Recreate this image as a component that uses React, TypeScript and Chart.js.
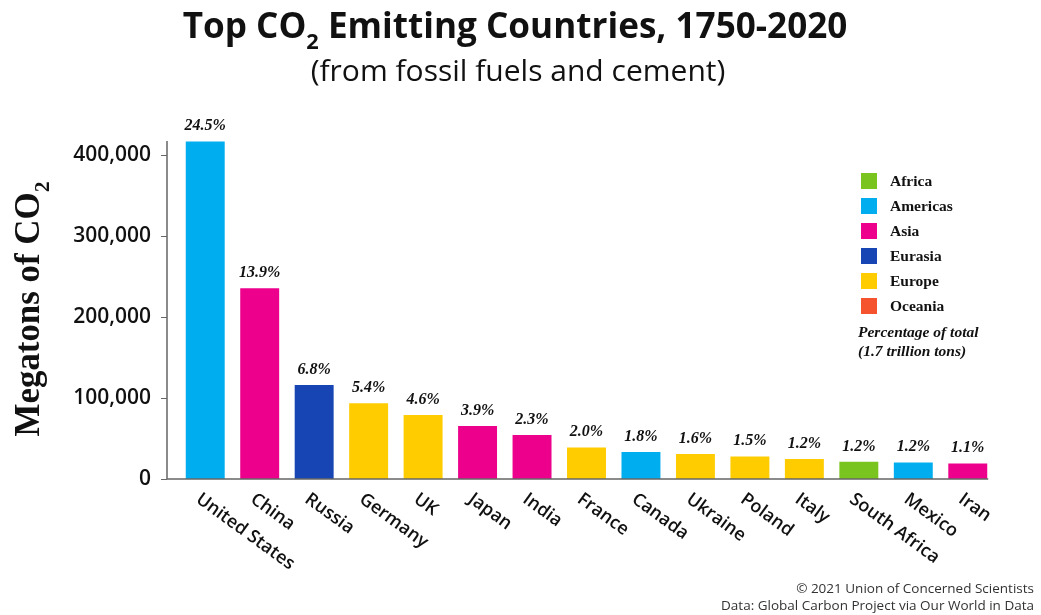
import React, { useEffect, useRef } from "react";
import { Chart, registerables } from "chart.js";

Chart.register(...registerables);

const countries = ["United States", "China", "Russia", "Germany", "UK", "Japan", "India", "France", "Canada", "Ukraine", "Poland", "Italy", "South Africa", "Mexico", "Iran"];
const emissions = [417000, 235500, 116000, 93500, 79000, 65500, 54300, 39000, 33500, 30800, 27800, 24700, 21300, 20400, 19200];
const shares = ["24.5%", "13.9%", "6.8%", "5.4%", "4.6%", "3.9%", "2.3%", "2.0%", "1.8%", "1.6%", "1.5%", "1.2%", "1.2%", "1.2%", "1.1%"];
const regionOf = ["Americas", "Asia", "Eurasia", "Europe", "Europe", "Asia", "Asia", "Europe", "Americas", "Europe", "Europe", "Europe", "Africa", "Americas", "Asia"];
const regions = ["Africa", "Americas", "Asia", "Eurasia", "Europe", "Oceania"];
const regionColors = ["#7ac41f", "#00aeef", "#ec008c", "#1746b4", "#ffcc00", "#f4532d"];
const yTicks = [0, 100000, 200000, 300000, 400000];

const titleParts = [{ t: "Top CO", sub: false }, { t: "2", sub: true }, { t: " Emitting Countries, 1750-2020", sub: false }];
const subtitle = "(from fossil fuels and cement)";
const yTitleParts = [{ t: "Megatons of CO", sub: false }, { t: "2", sub: true }];
const noteLines = ["Percentage of total", "(1.7 trillion tons)"];
const footer = ["© 2021 Union of Concerned Scientists", "Data: Global Carbon Project via Our World in Data"];

function partsWidth(ctx: CanvasRenderingContext2D, parts: any[], font: (s: number) => string, size: number) {
  let w = 0;
  for (const p of parts) {
    ctx.font = font(p.sub ? size * 0.62 : size);
    w += ctx.measureText(p.t).width;
  }
  return w;
}

function drawParts(ctx: CanvasRenderingContext2D, parts: any[], font: (s: number) => string, size: number, cx: number, baseY: number) {
  const w = partsWidth(ctx, parts, font, size);
  let x = cx - w / 2;
  ctx.textAlign = "left";
  ctx.textBaseline = "alphabetic";
  for (const p of parts) {
    const s = p.sub ? size * 0.62 : size;
    ctx.font = font(s);
    ctx.fillText(p.t, x, baseY + (p.sub ? size * 0.3 : 0));
    x += ctx.measureText(p.t).width;
  }
}

const decorPlugin = {
  id: "decor",
  afterDraw(chart: any) {
    const ctx: CanvasRenderingContext2D = chart.ctx;
    const meta = chart.getDatasetMeta(0);
    const yScale = chart.scales.y;
    ctx.save();
    ctx.fillStyle = "#111";

    // Title
    const tFont = (s: number) => `700 ${s}px "Open Sans"`;
    let ts = 30;
    ts = ts * 665 / partsWidth(ctx, titleParts, tFont, ts);
    drawParts(ctx, titleParts, tFont, ts, 515, 38);
    // Subtitle
    const sFont = (s: number) => `400 ${s}px "Open Sans"`;
    let ss = 24;
    ss = ss * 415 / partsWidth(ctx, [{ t: subtitle, sub: false }], sFont, ss);
    drawParts(ctx, [{ t: subtitle, sub: false }], sFont, ss, 518, 81);

    // Y title
    const yFont = (s: number) => `700 ${s}px "Liberation Serif"`;
    let ys = 33;
    ys = ys * 255 / partsWidth(ctx, yTitleParts, yFont, ys);
    ctx.save();
    ctx.translate(39, 309);
    ctx.rotate(-Math.PI / 2);
    drawParts(ctx, yTitleParts, yFont, ys, 0, 0);
    ctx.restore();

    // Axes lines
    const axX = 167;
    const y0 = yScale.getPixelForValue(0);
    const last = meta.data[meta.data.length - 1];
    ctx.strokeStyle = "#666";
    ctx.lineWidth = 1.5;
    ctx.beginPath();
    ctx.moveTo(axX, 141);
    ctx.lineTo(axX, y0);
    ctx.lineTo(last.x + last.width / 2 + 1, y0);
    ctx.stroke();
    ctx.lineWidth = 1;
    for (const v of yTicks) {
      const py = Math.round(yScale.getPixelForValue(v)) + 0.5;
      ctx.beginPath();
      ctx.moveTo(axX - 6, py);
      ctx.lineTo(axX, py);
      ctx.stroke();
    }

    // Percent labels
    ctx.fillStyle = "#111";
    ctx.font = `italic 700 16px "Liberation Serif"`;
    ctx.textAlign = "center";
    ctx.textBaseline = "alphabetic";
    meta.data.forEach((bar: any, i: number) => {
      ctx.fillText(shares[i], bar.x, bar.y - 11);
    });

    // X labels (rotated clockwise)
    ctx.font = `600 18px "Open Sans"`;
    ctx.textAlign = "left";
    ctx.textBaseline = "top";
    const ang = 36 * Math.PI / 180;
    meta.data.forEach((bar: any, i: number) => {
      ctx.save();
      ctx.translate(bar.x - 2, y0 + 11);
      ctx.rotate(ang);
      ctx.fillText(countries[i], 0, 0);
      ctx.restore();
    });

    // Legend
    const lx = 861;
    const ly0 = 181;
    const step = 25;
    ctx.font = `700 15.5px "Liberation Serif"`;
    ctx.textBaseline = "middle";
    regions.forEach((r, i) => {
      const cy = ly0 + i * step;
      ctx.fillStyle = regionColors[i];
      ctx.fillRect(lx, cy - 8, 16, 16);
      ctx.fillStyle = "#111";
      ctx.fillText(r, 890, cy + 1);
    });
    ctx.font = `italic 700 15.5px "Liberation Serif"`;
    ctx.fillText(noteLines[0], 858, 333);
    ctx.fillText(noteLines[1], 858, 352);

    // Footer
    ctx.fillStyle = "#333";
    ctx.font = `400 13.5px "Open Sans"`;
    ctx.textAlign = "right";
    ctx.textBaseline = "alphabetic";
    ctx.fillText(footer[0], 1034, 593);
    ctx.fillText(footer[1], 1034, 610);

    ctx.restore();
  },
};

export default function App() {
  const ref = useRef<HTMLCanvasElement>(null);
  useEffect(() => {
    document.body.style.margin = "0";
    const canvas = ref.current!;
    const chart = new Chart(canvas, {
      type: "bar",
      data: {
        labels: countries,
        datasets: [
          {
            data: emissions,
            backgroundColor: regionOf.map((r) => regionColors[regions.indexOf(r)]),
            barPercentage: 0.715,
            categoryPercentage: 1,
            borderWidth: 0,
          },
        ],
      },
      options: {
        responsive: false,
        animation: false,
        devicePixelRatio: 1,
        layout: { padding: { left: 0, right: 46, top: 139, bottom: 0 } },
        plugins: { legend: { display: false }, tooltip: { enabled: false }, title: { display: false } },
        scales: {
          x: {
            offset: true,
            grid: { display: false, drawTicks: false },
            border: { display: false },
            ticks: { display: false },
            afterFit: (s: any) => { s.height = 136; },
          },
          y: {
            min: 0,
            max: 420000,
            grid: { display: false, drawTicks: false },
            border: { display: false },
            afterBuildTicks: (s: any) => { s.ticks = yTicks.map((v) => ({ value: v })); },
            afterFit: (s: any) => { s.width = 178; },
            ticks: {
              padding: 27,
              color: "#111",
              font: { family: "Open Sans", size: 21, weight: "600" },
              callback: (v: any) => Number(v).toLocaleString("en-US"),
            },
          },
        },
      },
      plugins: [decorPlugin],
    });
    return () => chart.destroy();
  }, []);
  return (
    <div style={{ width: 1041, height: 615, background: "#fff" }}>
      <canvas ref={ref} width={1041} height={615} style={{ display: "block" }} />
    </div>
  );
}
